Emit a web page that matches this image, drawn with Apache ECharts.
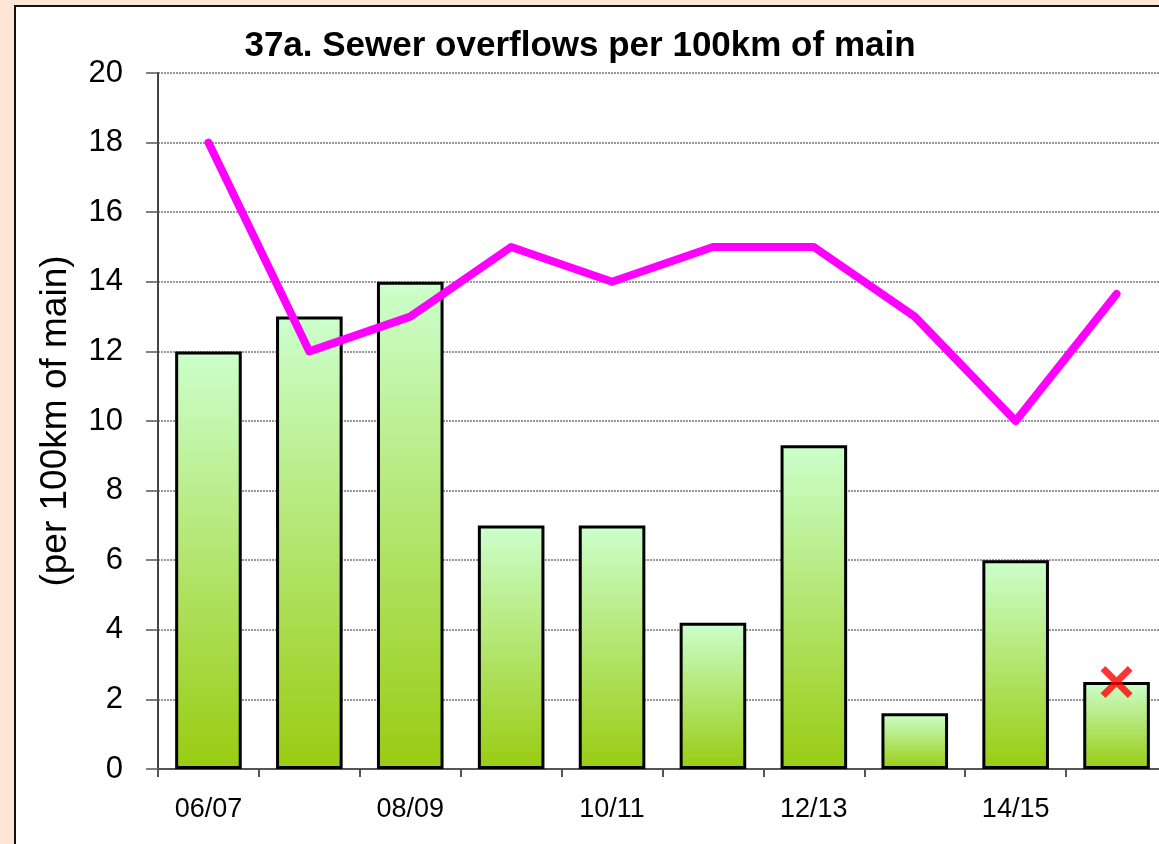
<!DOCTYPE html>
<html><head><meta charset="utf-8">
<script src="https://cdn.jsdelivr.net/npm/echarts@6/dist/echarts.min.js"></script>
<style>
html,body{margin:0;padding:0;background:#fde6d6;overflow:hidden;width:1159px;height:844px;}
#frame{position:absolute;left:14px;top:5px;width:1160px;height:850px;background:#fff;border-left:2px solid #111;border-top:2px solid #111;}
#c{position:absolute;left:0;top:0;width:1180px;height:844px;}
</style></head>
<body>
<div id="frame"></div>
<div id="c"></div>
<script>
const categories = ['06/07','07/08','08/09','09/10','10/11','11/12','12/13','13/14','14/15','15/16'];
const barValues = [12, 13, 14, 7, 7, 4.2, 9.3, 1.6, 6, 2.5];
const lineValues = [18, 12, 13, 15, 14, 15, 15, 13, 10, 13.65];
const markerPoint = [['15/16', 2.5]];
const yTicks = {min: 0, max: 20, interval: 2};

const chart = echarts.init(document.getElementById('c'), null, {renderer: 'canvas'});
const sans = '"Liberation Sans", Arial, sans-serif';
chart.setOption({
  backgroundColor: 'transparent',
  animation: false,
  title: {
    text: '37a. Sewer overflows per 100km of main',
    left: 575, top: 24, textAlign: 'center',
    textStyle: {fontFamily: sans, fontWeight: 'bold', fontSize: 35, color: '#000'}
  },
  grid: {left: 158, top: 73, width: 1009, height: 696},
  xAxis: {
    type: 'category', data: categories, boundaryGap: true,
    axisLine: {lineStyle: {color: '#555', width: 2}},
    axisTick: {show: true, alignWithLabel: false, interval: 0, length: 8, lineStyle: {color: '#555', width: 2}},
    axisLabel: {interval: 1, margin: 27, fontFamily: sans, fontSize: 27, color: '#000'},
    splitLine: {show: false}
  },
  yAxis: {
    type: 'value', min: yTicks.min, max: yTicks.max, interval: yTicks.interval,
    name: '(per 100km of main)', nameLocation: 'middle', nameGap: 84, nameRotate: 90,
    nameTextStyle: {fontFamily: sans, fontSize: 37, color: '#000'},
    axisLine: {show: true, lineStyle: {color: '#444', width: 2}},
    axisTick: {show: true, length: 12, lineStyle: {color: '#555', width: 1.5}},
    axisLabel: {margin: 35, fontFamily: sans, fontSize: 31, color: '#000'},
    splitLine: {show: true, lineStyle: {color: '#777', type: [2, 1], width: 1.5}}
  },
  series: [
    {
      type: 'bar', data: barValues, barCategoryGap: '34%',
      itemStyle: {
        borderColor: '#000', borderWidth: 3,
        color: new echarts.graphic.LinearGradient(0, 0, 0, 1, [
          {offset: 0, color: '#ccffcc'},
          {offset: 1, color: '#99cc11'}
        ])
      },
      z: 2
    },
    {
      type: 'line', data: lineValues, symbol: 'none',
      lineStyle: {color: '#ff00ff', width: 8, cap: 'round', join: 'round'},
      z: 3
    },
    {
      type: 'scatter', data: markerPoint,
      symbol: 'path://M0,3 L3,0 L10,7 L17,0 L20,3 L13,10 L20,17 L17,20 L10,13 L3,20 L0,17 L7,10 Z',
      symbolSize: 32,
      itemStyle: {color: '#ff0000'},
      z: 4
    }
  ]
});
</script>
</body></html>
